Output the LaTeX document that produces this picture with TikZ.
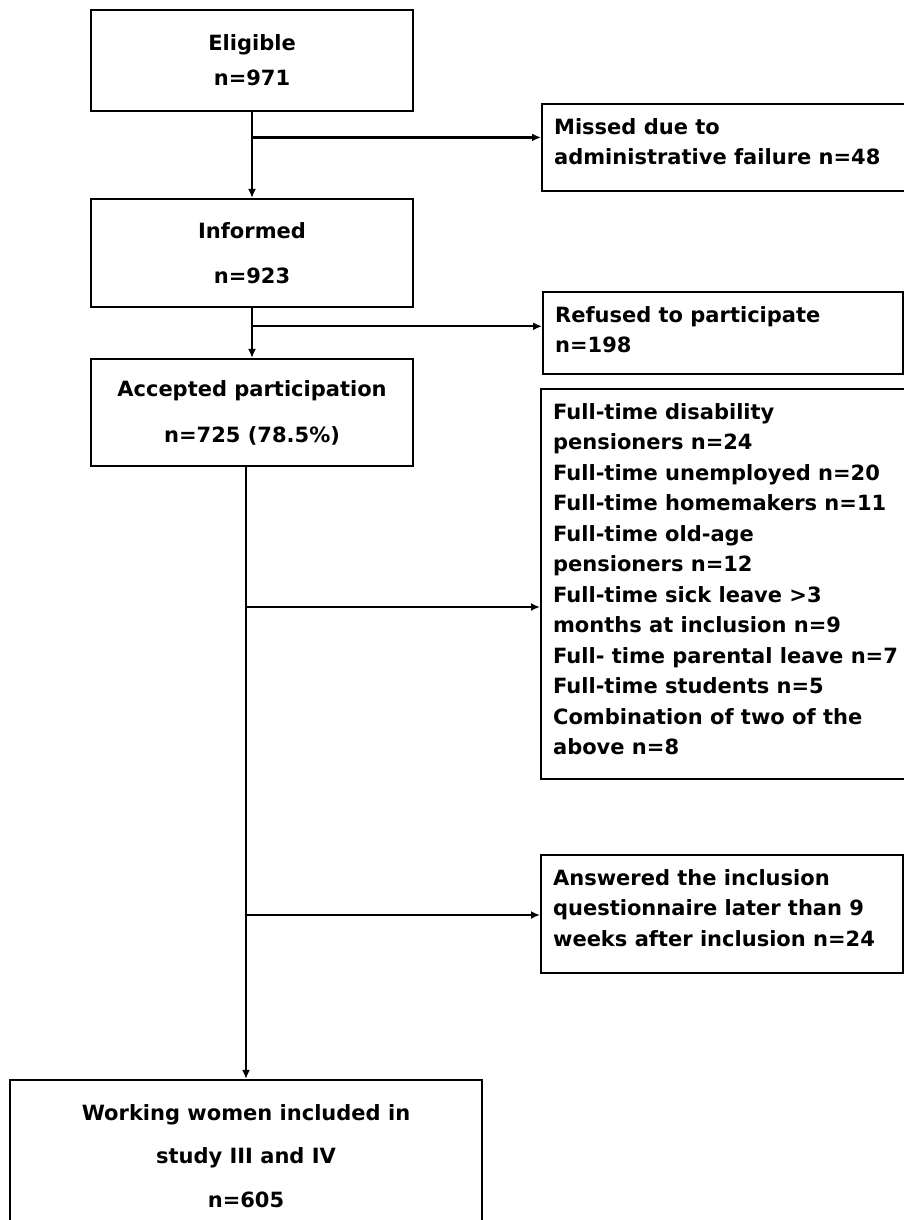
\documentclass[tikz,border=0pt]{standalone}
\usepackage{fontspec}
\setmainfont{DejaVu Sans}
\usetikzlibrary{calc,arrows.meta}

\begin{document}
\begin{tikzpicture}[x=1pt,y=-1pt,
  box/.style={draw,line width=2.2pt,inner sep=0pt,font=\fontsize{21}{30.5}\selectfont\bfseries},
  mainbox/.style={box,align=center},
  sidebox/.style={box,anchor=north west,inner xsep=12pt,inner ysep=14pt},
  arr/.style={-{Latex[length=9pt,width=8pt]},line width=2.2pt}]
\useasboundingbox (0,0) rectangle (904,1220);
% main column
\node[mainbox,minimum width=322,minimum height=101] (elig) at (252,60.5) {Eligible\\[4.5pt]n=971};
\node[mainbox,minimum width=322,minimum height=108] (inf) at (252,253) {Informed\\[14.5pt]n=923};
\node[mainbox,minimum width=322,minimum height=107] (acc) at (252,412.5) {Accepted participation\\[15.5pt]n=725 (78.5\%)};
\node[mainbox,minimum width=472,minimum height=152] (incl) at (246,1156) {Working women included in\\[13pt]study III and IV\\[13pt]n=605};
% exclusions
\node[sidebox] (missed) at (541,103) {\parbox[c][59pt][t]{350pt}{\raggedright Missed due to\\administrative failure n=48}};
\node[sidebox] (refused) at (542,291) {\parbox[c][54pt][t]{336pt}{\raggedright Refused to participate\\n=198}};
\node[sidebox] (nowork) at (540,388) {\parbox[c][362pt][t]{350pt}{\raggedright Full-time disability\\pensioners n=24\\Full-time unemployed n=20\\Full-time homemakers n=11\\Full-time old-age\\pensioners n=12\\Full-time sick leave >3\\months at inclusion n=9\\Full- time parental leave n=7\\Full-time students n=5\\Combination of two of the\\above n=8}};
\node[sidebox] (late) at (540,854) {\parbox[c][90pt][t]{338pt}{\raggedright Answered the inclusion\\questionnaire later than 9\\weeks after inclusion n=24}};
% arrows
\coordinate (b1) at ($(elig.south)!0.295!(inf.north)$);
\coordinate (b2) at ($(inf.south)!0.365!(acc.north)$);
\coordinate (b3) at (acc.south -| incl.north) {};
\draw[arr] (elig) -- (inf);
\draw[arr] (b1) -- (b1 -| missed.west);
\draw[arr] (inf) -- (acc);
\draw[arr] (b2) -- (b2 -| refused.west);
\draw[arr] (b3) -- (incl.north);
\draw[arr] (b3 |- 0,607) -- (nowork.west |- 0,607);
\draw[arr] (b3 |- 0,915) -- (late.west |- 0,915);
\end{tikzpicture}
\end{document}
